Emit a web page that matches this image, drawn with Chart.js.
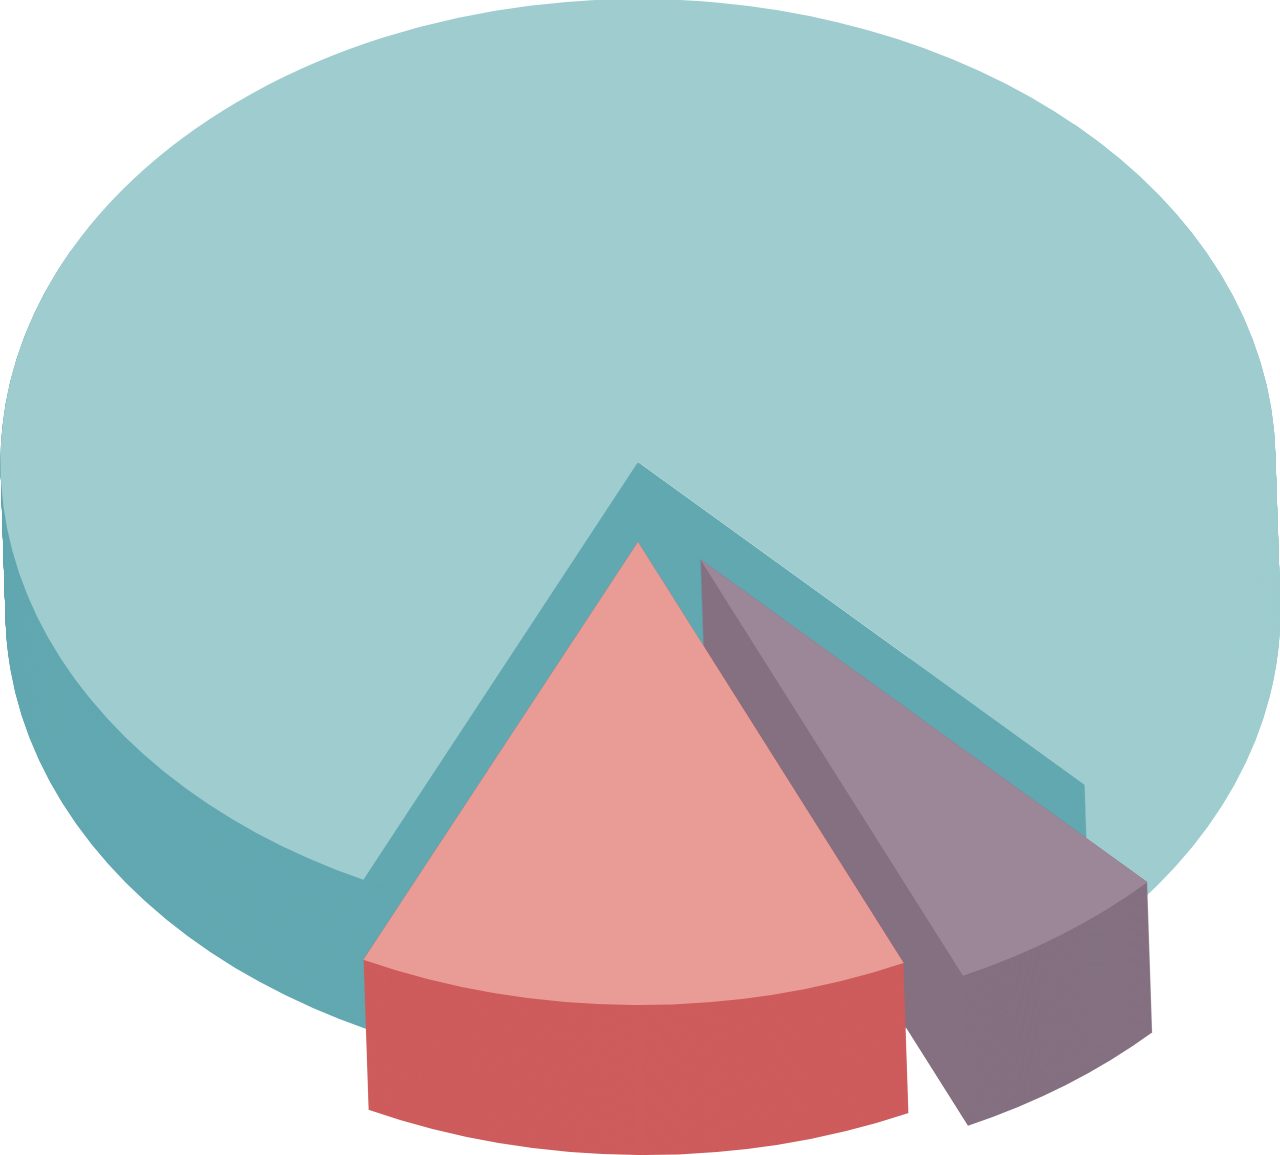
<!DOCTYPE html>
<html>
<head>
<meta charset="utf-8">
<style>
  html, body { margin: 0; padding: 0; background: #fff; }
  canvas { display: block; }
</style>
<script src="https://cdn.jsdelivr.net/npm/chart.js@4/dist/chart.umd.min.js"></script>
</head>
<body>
<canvas id="myChart" width="1280" height="1155"></canvas>
<script>
// values, share of the pie in percent
let sliceNames = ['A', 'B', 'C'];
let sliceValues = [80.37, 5.7, 13.93];
let topColors = ['#9fcdcf', '#9c8799', '#e99c95'];
let wallColors = ['#62a8b1', '#847080', '#ce5c5c'];

// 3d look
let centerX = 638, centerY = 462, radius = 637.5;
let squash = 463 / 637.5;
let depthX = 5, depthY = 150;
let sliceShift = [[0, 0], [62, 97], [0, 80]];
let sliceScale = [1, 0.99, 1];

function paint(ctx, arc, x, y, color, start, end, inner, scale) {
    let keep = [arc.options, arc.startAngle, arc.endAngle, arc.circumference, arc.innerRadius, arc.outerRadius];
    arc.options = {
        backgroundColor: color, borderColor: color, borderWidth: 0, borderAlign: 'center',
        borderRadius: 0, borderJoinStyle: 'round', offset: 0, spacing: 0, circular: true, selfJoin: false
    };
    arc.startAngle = start;
    arc.endAngle = end;
    arc.circumference = end - start;
    arc.innerRadius = inner || 0;
    arc.outerRadius = radius * (scale || 1);
    ctx.save();
    ctx.translate(x, y);
    ctx.scale(1, squash);
    ctx.translate(-arc.x, -arc.y);
    arc.draw(ctx);
    ctx.restore();
    arc.options = keep[0];
    arc.startAngle = keep[1];
    arc.endAngle = keep[2];
    arc.circumference = keep[3];
    arc.innerRadius = keep[4];
    arc.outerRadius = keep[5];
}

// stacks one arc from the bottom of the wall up to its top face
function wall(ctx, arc, index, color, start, end, inner, scale) {
    for (let d = depthY; d >= 0; d--) {
        let x = centerX + sliceShift[index][0] + depthX * d / depthY;
        let y = centerY + sliceShift[index][1] + d;
        paint(ctx, arc, x, y, color, start, end, inner, scale);
    }
}

let pie3d = {
    id: 'pie3d',
    beforeDatasetsDraw(chart) {
        let ctx = chart.ctx;
        let arcs = chart.getDatasetMeta(0).data;
        let big = arcs[0], a = big.startAngle, b = big.endAngle;

        // big slice: dark outer wall on the left, light on the right
        wall(ctx, big, 0, wallColors[0], a, a + 1.6);
        wall(ctx, big, 0, topColors[0], b - 1.6, b, radius * 0.6);
        // the gap the two pulled slices leave shows the dark inner walls
        let gapEnd = a + Math.PI * 2;
        wall(ctx, big, 0, wallColors[0], b, b + 0.5, 0, 0.989);
        wall(ctx, big, 0, wallColors[0], b + 0.5, gapEnd);
        paint(ctx, big, centerX, centerY, topColors[0], a, b);

        // purple goes first, the pink slice sits in front of it
        [1, 2].forEach(function (i) {
            let arc = arcs[i];
            wall(ctx, arc, i, wallColors[i], arc.startAngle, arc.endAngle, 0, sliceScale[i]);
            paint(ctx, arc, centerX + sliceShift[i][0], centerY + sliceShift[i][1], topColors[i], arc.startAngle, arc.endAngle, 0, sliceScale[i]);
        });
        return false;
    }
};

let ctx = document.getElementById('myChart').getContext('2d');
let myChart = new Chart(ctx, {
    type: 'pie',
    data: {
        labels: sliceNames,
        datasets: [{
            data: sliceValues,
            backgroundColor: topColors,
            borderWidth: 0
        }]
    },
    options: {
        responsive: false,
        animation: false,
        devicePixelRatio: 1,
        rotation: 205.52,
        radius: radius,
        layout: { padding: 0 },
        plugins: { legend: { display: false }, tooltip: { enabled: false } }
    },
    plugins: [pie3d]
});
</script>
</body>
</html>
